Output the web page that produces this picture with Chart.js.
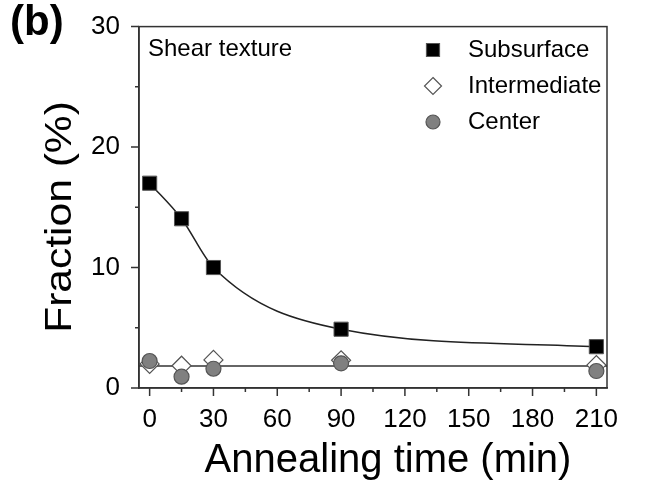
<!DOCTYPE html>
<html>
<head>
<meta charset="utf-8">
<script src="https://cdn.jsdelivr.net/npm/chart.js@4.4.0/dist/chart.umd.min.js"></script>
<style>
  html, body { margin: 0; padding: 0; background: #fff; }
</style>
</head>
<body>
<canvas id="fracChart" width="648" height="484"></canvas>
<script>
// annealing time (min) and fraction (%)
let times = [0, 15, 30, 90, 210];
let subsurface = [17.0, 14.05, 10.0, 4.88, 3.43];
let intermediate = [2.0, 1.85, 2.33, 2.3, 1.9];
let center = [2.24, 0.94, 1.6, 2.05, 1.41];
let flatFitX = [-5, 215];
let flatFitY = [1.83, 1.83];

let xTickLabels = [0, 30, 60, 90, 120, 150, 180, 210];
let xMinorTicks = [15, 45, 75, 105, 135, 165, 195];
let yTickLabels = [0, 10, 20, 30];
let yMinorTicks = [5, 15, 25];

const FONT = "'Liberation Sans', Arial, sans-serif";
const AXIS = '#333';

function pts(xs, ys) {
  return xs.map((x, i) => ({x: x, y: ys[i]}));
}

// ticks, box, panel label, axis titles, legend
const decor = {
  id: 'decor',
  afterDraw(chart) {
    const c = chart.ctx, a = chart.chartArea;
    const sx = chart.scales.x, sy = chart.scales.y;
    c.save();
    c.strokeStyle = AXIS;
    c.lineWidth = 1.5;
    c.strokeRect(a.left, a.top, a.right - a.left, a.bottom - a.top);
    c.beginPath();
    xTickLabels.forEach(v => { const p = sx.getPixelForValue(v); c.moveTo(p, a.bottom); c.lineTo(p, a.bottom + 8); });
    xMinorTicks.forEach(v => { const p = sx.getPixelForValue(v); c.moveTo(p, a.bottom); c.lineTo(p, a.bottom + 4); });
    yTickLabels.forEach(v => { const p = sy.getPixelForValue(v); c.moveTo(a.left, p); c.lineTo(a.left - 8, p); });
    yMinorTicks.forEach(v => { const p = sy.getPixelForValue(v); c.moveTo(a.left, p); c.lineTo(a.left - 4, p); });
    c.stroke();

    c.fillStyle = '#000';
    c.textBaseline = 'middle';
    c.textAlign = 'left';
    c.font = 'bold 42px ' + FONT;
    c.fillText('(b)', 10, 23);
    c.font = '24px ' + FONT;
    c.fillText('Shear texture', 148, 49);

    c.textAlign = 'center';
    c.font = '40px ' + FONT;
    c.fillText('Annealing time (min)', 388, 461);

    // y title, drawn tall and narrow like the original
    c.save();
    c.translate(61, 217);
    c.rotate(-Math.PI / 2);
    c.scale(1.15, 1);
    c.font = '37px ' + FONT;
    c.fillText('Fraction (%)', 0, 0);
    c.restore();

    // legend
    const rows = [
      {label: 'Subsurface', shape: 'square'},
      {label: 'Intermediate', shape: 'diamond'},
      {label: 'Center', shape: 'circle'}
    ];
    c.textAlign = 'left';
    rows.forEach((r, i) => {
      const y = 50 + i * 36, x = 433;
      c.lineWidth = 1.2;
      c.strokeStyle = '#555';
      c.beginPath();
      if (r.shape === 'square') { c.fillStyle = '#000'; c.rect(x - 6.5, y - 6.5, 13, 13); }
      if (r.shape === 'diamond') { c.fillStyle = '#fff'; c.moveTo(x, y - 8.5); c.lineTo(x + 8.5, y); c.lineTo(x, y + 8.5); c.lineTo(x - 8.5, y); c.closePath(); }
      if (r.shape === 'circle') { c.fillStyle = '#808080'; c.arc(x, y, 7, 0, Math.PI * 2); }
      c.fill();
      c.stroke();
      c.fillStyle = '#000';
      c.font = '24px ' + FONT;
      c.fillText(r.label, 468, y);
    });
    c.restore();
  }
};

var ctx = document.getElementById('fracChart').getContext('2d');
var fracChart = new Chart(ctx, {
  type: 'scatter',
  data: {
    datasets: [
      {
        label: 'Subsurface',
        data: pts(times, subsurface),
        showLine: true,
        cubicInterpolationMode: 'monotone',
        borderColor: '#222',
        borderWidth: 1.5,
        pointStyle: 'rect',
        pointRadius: 10,
        pointBackgroundColor: '#000',
        pointBorderColor: '#555',
        pointBorderWidth: 1,
        order: 0
      },
      {
        label: 'Center',
        data: pts(times, center),
        pointStyle: 'circle',
        pointRadius: 7.5,
        pointBackgroundColor: '#808080',
        pointBorderColor: '#555',
        pointBorderWidth: 1.2,
        order: 1
      },
      {
        label: 'Intermediate',
        data: pts(times, intermediate),
        pointStyle: 'rectRot',
        pointRadius: 9.5,
        pointBackgroundColor: '#fff',
        pointBorderColor: '#555',
        pointBorderWidth: 1.2,
        order: 2
      },
      {
        label: 'fit',
        data: pts(flatFitX, flatFitY),
        showLine: true,
        borderColor: '#333',
        borderWidth: 1.5,
        pointRadius: 0,
        order: 3
      }
    ]
  },
  options: {
    responsive: false,
    animation: false,
    layout: { padding: { top: 25, right: 41, left: 0, bottom: 0 } },
    scales: {
      x: {
        type: 'linear',
        min: -5,
        max: 215,
        afterBuildTicks: s => { s.ticks = xTickLabels.map(v => ({value: v})); },
        afterFit: s => { s.height = 96; },
        grid: { display: false },
        border: { color: AXIS, width: 1.5 },
        ticks: { color: '#000', font: { family: FONT, size: 26 }, padding: 8, maxRotation: 0, autoSkip: false },
        title: { display: false }
      },
      y: {
        min: 0,
        max: 30,
        afterBuildTicks: s => { s.ticks = yTickLabels.map(v => ({value: v})); },
        afterFit: s => { s.width = 139; },
        grid: { display: false },
        border: { color: AXIS, width: 1.5 },
        ticks: { color: '#000', font: { family: FONT, size: 26 }, padding: 11 },
        title: { display: false }
      }
    },
    plugins: {
      legend: { display: false },
      tooltip: { enabled: false }
    }
  },
  plugins: [decor]
});
</script>
</body>
</html>
